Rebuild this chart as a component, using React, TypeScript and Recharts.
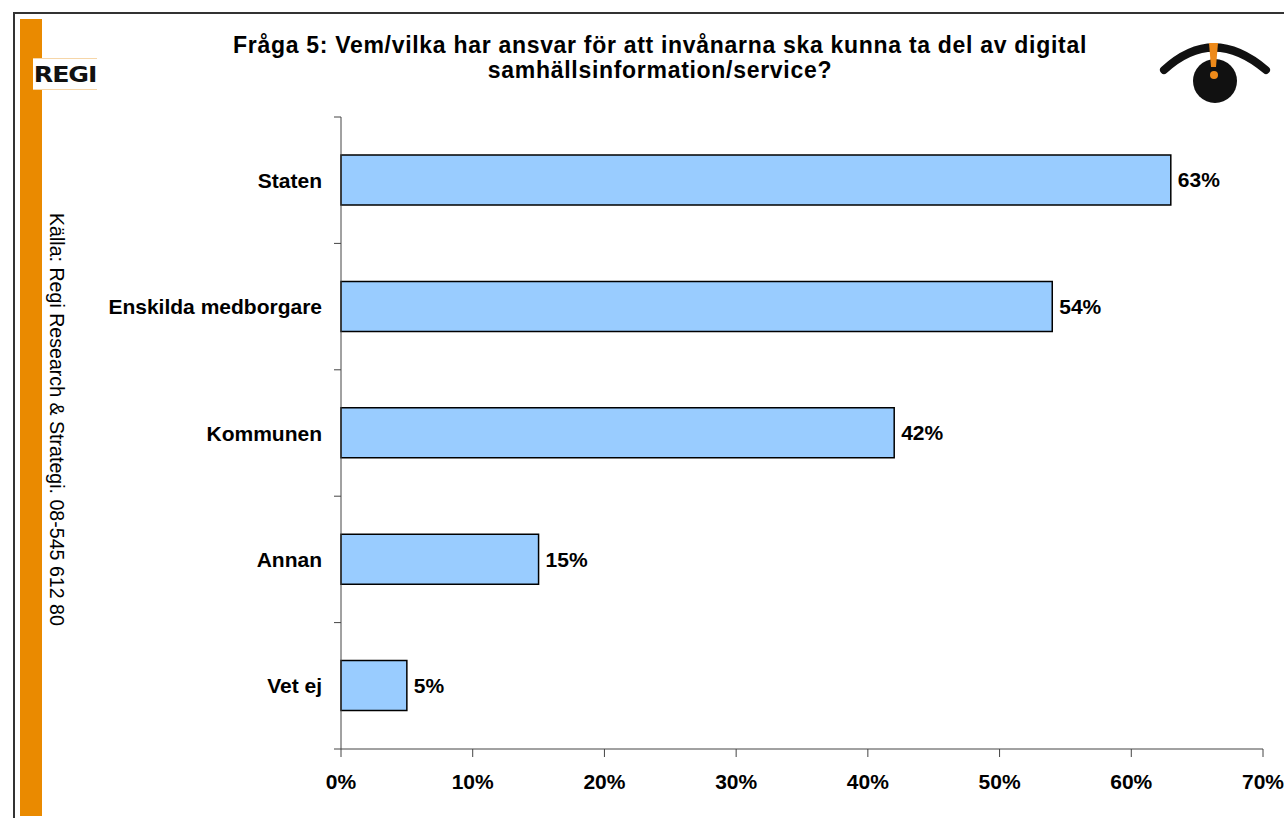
import React from "react";
import { BarChart, Bar, XAxis, YAxis, LabelList } from "recharts";

const categories = ["Staten", "Enskilda medborgare", "Kommunen", "Annan", "Vet ej"];
const shares = [63, 54, 42, 15, 5];
const xTicks = [0, 10, 20, 30, 40, 50, 60, 70];

const data = categories.map((name, i) => ({ name, value: shares[i] }));

const FONT = "'Liberation Sans', Arial, sans-serif";
const W = 1284;
const H = 818;
const PLOT_LEFT = 341;
const PLOT_TOP = 117;
const PLOT_BOTTOM = 749;
const BAND = (PLOT_BOTTOM - PLOT_TOP) / categories.length;

const CategoryTick = (props: any) => {
  const { y, payload, index } = props;
  return (
    <g>
      <text
        x={PLOT_LEFT - 19}
        y={y}
        textAnchor="end"
        dominantBaseline="central"
        fontFamily={FONT}
        fontWeight="bold"
        fontSize={21}
        fill="#000"
      >
        {payload.value}
      </text>
      <line x1={PLOT_LEFT - 7} x2={PLOT_LEFT} y1={y - BAND / 2} y2={y - BAND / 2} stroke="#444" />
      {index === categories.length - 1 && (
        <line x1={PLOT_LEFT - 7} x2={PLOT_LEFT} y1={y + BAND / 2} y2={y + BAND / 2} stroke="#444" />
      )}
    </g>
  );
};

function RegiLogo() {
  return (
    <div
      style={{
        position: "absolute",
        left: 33,
        top: 58,
        width: 64,
        height: 32,
        background: "#fff",
        borderTop: "1px solid #f6d6a8",
        borderBottom: "1px solid #f6d6a8",
        boxSizing: "border-box",
      }}
    >
      <svg width={64} height={30}>
        <text
          x={0}
          y={0}
          textAnchor="middle"
          fontFamily="'DejaVu Sans', sans-serif"
          fontWeight="bold"
          fontSize={22}
          fill="#111"
          transform="translate(32,23) scale(1.15,1)"
          letterSpacing={-1}
        >
          REGI
        </text>
      </svg>
    </div>
  );
}

function EyeIcon() {
  return (
    <svg style={{ position: "absolute", left: 1150, top: 35, overflow: "visible" }} width={130} height={80}>
      <path d="M 14 35 Q 63 -10 116 35" stroke="#111" strokeWidth={8} fill="none" strokeLinecap="round" />
      <circle cx={65} cy={46} r={22} fill="#111" />
      <path d="M 59 8 L 68 8 L 66 32 L 61 32 Z" fill="#ee8a1a" />
      <circle cx={64} cy={40} r={4} fill="#ee8a1a" />
    </svg>
  );
}

export default function App() {
  return (
    <div
      style={{
        position: "absolute",
        left: 0,
        top: 0,
        width: W,
        height: H,
        overflow: "hidden",
        background: "#fff",
        fontFamily: FONT,
      }}
    >
      <div style={{ position: "absolute", left: 13, top: 12, width: W, height: H, borderLeft: "2px solid #333", borderTop: "2px solid #333" }} />
      <div style={{ position: "absolute", left: 20, top: 19, width: 22, height: 797, background: "#ea8a00" }} />
      <RegiLogo />
      <EyeIcon />
      <div
        style={{
          position: "absolute",
          left: 160,
          top: 33,
          width: 1000,
          textAlign: "center",
          fontWeight: "bold",
          fontSize: 23,
          lineHeight: "25px",
          letterSpacing: 0.7,
          color: "#000",
        }}
      >
        Fråga 5: Vem/vilka har ansvar för att invånarna ska kunna ta del av digital
        <br />
        samhällsinformation/service?
      </div>
      <div
        style={{
          position: "absolute",
          left: 45,
          top: 213,
          writingMode: "vertical-rl",
          fontSize: 19.6,
          color: "#000",
          whiteSpace: "nowrap",
        }}
      >
        Källa: Regi Research &amp; Strategi. 08-545 612 80
      </div>
      <div style={{ position: "absolute", left: 0, top: 0 }}>
        <BarChart
          width={W}
          height={H}
          data={data}
          layout="vertical"
          margin={{ top: PLOT_TOP, right: W - 1263, bottom: 29, left: 11 }}
          barSize={50}
        >
          <XAxis
            type="number"
            domain={[0, 70]}
            ticks={xTicks}
            tickFormatter={(v: number) => `${v}%`}
            axisLine={{ stroke: "#444" }}
            tickLine={{ stroke: "#444" }}
            tickSize={8}
            tickMargin={17}
            height={40}
            tick={{ fill: "#000", fontWeight: "bold", fontSize: 21, fontFamily: FONT }}
          />
          <YAxis
            type="category"
            dataKey="name"
            width={330}
            axisLine={{ stroke: "#444" }}
            tickLine={false}
            tick={<CategoryTick />}
          />
          <Bar dataKey="value" fill="#99ccff" stroke="#000" strokeWidth={1.5} isAnimationActive={false}>
            <LabelList
              dataKey="value"
              position="right"
              offset={7}
              formatter={(v: any) => `${v}%`}
              fill="#000"
              fontWeight="bold"
              fontSize={21}
              fontFamily={FONT}
            />
          </Bar>
        </BarChart>
      </div>
    </div>
  );
}
